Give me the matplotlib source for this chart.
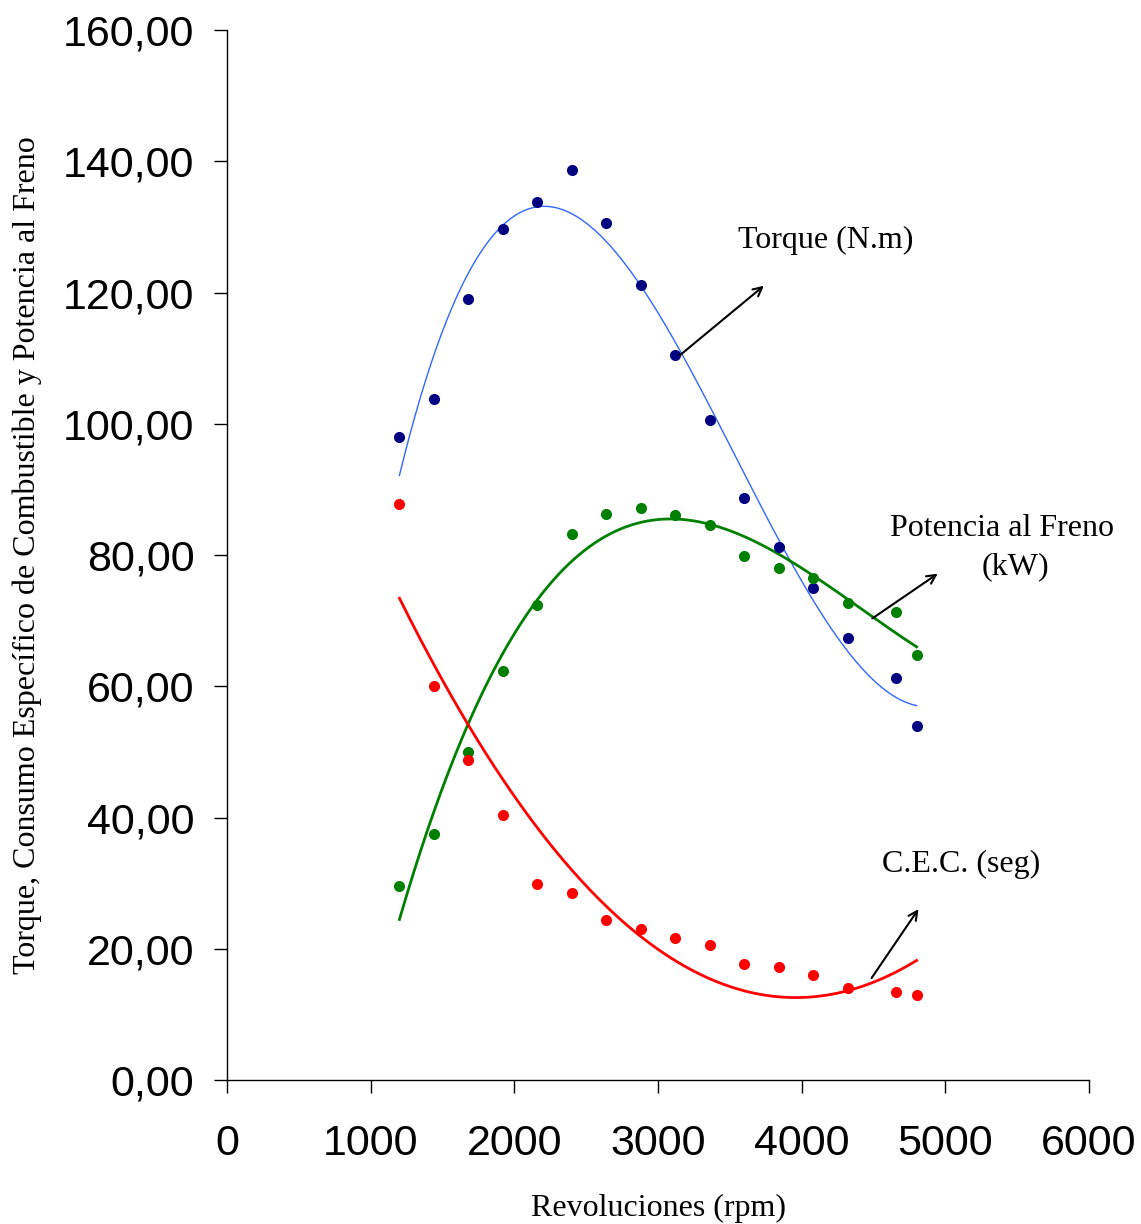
import numpy as np
import matplotlib
matplotlib.use("Agg")
import matplotlib.pyplot as plt
from matplotlib.ticker import FuncFormatter

# datos
rpm = [1200, 1440, 1680, 1920, 2160, 2400, 2640, 2880, 3120, 3360, 3600, 3840, 4080, 4320, 4660, 4800]
torque = [98.0, 103.8, 119.0, 129.7, 133.8, 138.7, 130.6, 121.1, 110.5, 100.6, 88.7, 81.2, 75.0, 67.4, 61.3, 53.9]
potencia = [29.6, 37.5, 50.0, 62.3, 72.4, 83.2, 86.2, 87.2, 86.1, 84.6, 79.8, 78.0, 76.5, 72.7, 71.3, 64.8]
cec = [87.8, 60.0, 48.8, 40.4, 29.9, 28.5, 24.4, 23.0, 21.6, 20.6, 17.7, 17.2, 16.0, 14.0, 13.4, 13.0]

sans = ["Liberation Sans", "DejaVu Sans"]
serif = ["Liberation Serif", "DejaVu Serif"]

fig = plt.figure(figsize=(11.41, 12.24), dpi=100)
ax = fig.add_axes([0.199, 0.1176, 0.7554, 0.8579])

x = np.array(rpm, dtype=float)
xs = np.linspace(x.min(), x.max(), 300)

# lineas de tendencia (polinomicas)
series = [
    (torque, 3, "#000080", "#3366FF", 1.0),
    (potencia, 3, "#008000", "#008000", 2.0),
    (cec, 2, "#FF0000", "#FF0000", 2.0),
]
for y, deg, mcol, lcol, lw in series:
    coef = np.polyfit(x, y, deg)
    ax.plot(xs, np.polyval(coef, xs), color=lcol, lw=lw, zorder=2)
    ax.plot(x, y, "o", color=mcol, ms=8, mec="none", zorder=3)

ax.set_xlim(0, 6000)
ax.set_ylim(0, 160)
ax.set_xticks(range(0, 6001, 1000))
ax.set_yticks(range(0, 161, 20))
ax.yaxis.set_major_formatter(FuncFormatter(lambda v, p: f"{v:.2f}".replace(".", ",")))

for s in ["top", "right"]:
    ax.spines[s].set_visible(False)
for s in ["left", "bottom"]:
    ax.spines[s].set_linewidth(1.0)

ax.tick_params(axis="both", direction="out", length=9.5, width=1.0, labelsize=31)
ax.tick_params(axis="y", pad=14)
ax.tick_params(axis="x", pad=22)
for lab in ax.get_xticklabels() + ax.get_yticklabels():
    lab.set_family(sans)

ax.set_xlabel("Revoluciones (rpm)", family=serif, fontsize=23, labelpad=22)
ax.set_ylabel("Torque, Consumo Específico de Combustible y Potencia al Freno",
              family=serif, fontsize=23, labelpad=15)

arrow = dict(arrowstyle="->", lw=1.5, color="black", mutation_scale=16)
ax.annotate("", xy=(3752, 121.3), xytext=(3139, 110.2), arrowprops=arrow)
ax.annotate("", xy=(4963, 77.4), xytext=(4476, 70.1), arrowprops=arrow)
ax.annotate("", xy=(4824, 26.4), xytext=(4476, 15.2), arrowprops=arrow)

ax.text(3557, 128.0, "Torque (N.m)", family=serif, fontsize=23, va="center", ha="left")
ax.text(5394, 84.1, "Potencia al Freno", family=serif, fontsize=23,
        va="center", ha="center", clip_on=False)
ax.text(5485, 78.2, "(kW)", family=serif, fontsize=23,
        va="center", ha="center", clip_on=False)
ax.text(5109, 32.8, "C.E.C. (seg)", family=serif, fontsize=23, va="center", ha="center")

fig.savefig("out.png", dpi=100)
